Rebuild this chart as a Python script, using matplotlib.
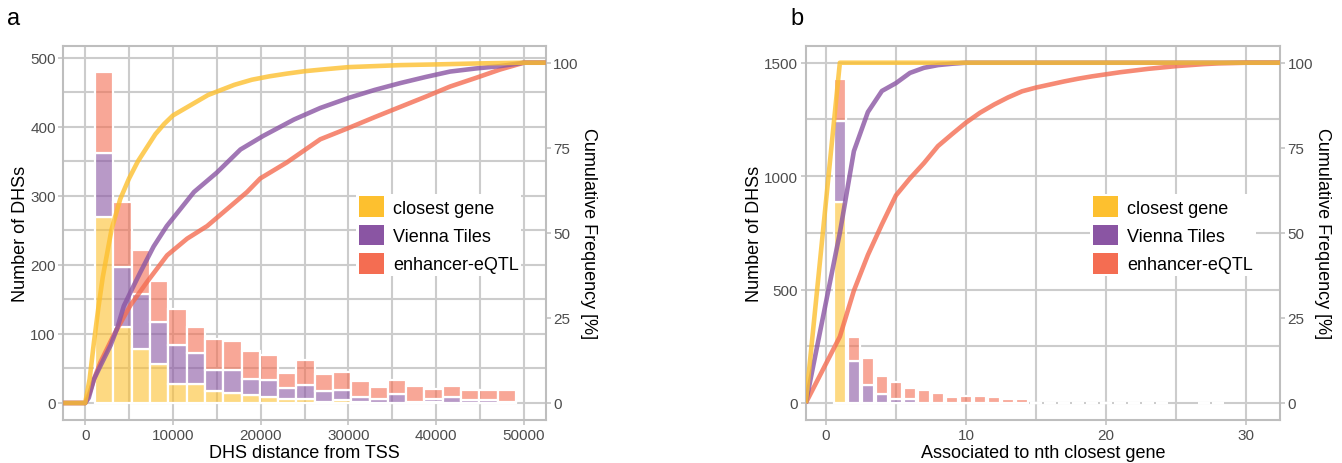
import numpy as np
import matplotlib
matplotlib.use('Agg')
import matplotlib.pyplot as plt
from matplotlib.patches import Patch
from matplotlib.colors import to_rgba
from matplotlib.ticker import MultipleLocator

plt.rcParams['font.family'] = ['Liberation Sans', 'DejaVu Sans']

GROUPS = ['closest gene', 'Vienna Tiles', 'enhancer-eQTL']
COLORS = ['#FDC02F', '#8A55A3', '#F46D52']
GRID = '#CCCCCC'
FRAME = '#BEBEBE'
TICKTXT = '#4D4D4D'

# panel a: DHS counts per distance bin (stacked) + cumulative frequency
dist_bin_start = 2175
dist_bin_width = 2086
dist_closest = [270, 110, 78, 57, 28, 28, 18, 15, 11, 9, 6, 6, 1, 5, 1, 0, 0, 0, 1, 0, 0, 0, 0]
dist_vienna = [92, 87, 80, 61, 56, 44, 30, 33, 24, 25, 15, 20, 17, 14, 8, 6, 13, 2, 5, 8, 4, 4, 1]
dist_eqtl = [118, 94, 64, 59, 52, 38, 44, 42, 40, 36, 22, 36, 24, 26, 23, 17, 21, 23, 14, 17, 15, 15, 18]
dist_xlim = (-2500, 52500)

cum_dist_closest_x = [0, 500, 1000, 1500, 2000, 3000, 4000, 5000, 6000, 7000, 8000, 9000, 10000,
                      11000, 12000, 13000, 14000, 15000, 17000, 19000, 21000, 23000, 25000, 27000,
                      30000, 33000, 36000, 40000, 45000, 50000]
cum_dist_closest_y = [0, 7, 18, 28, 37, 51, 60, 66, 71, 75, 79, 82, 84.5, 86, 87.5, 89, 90.5,
                      91.5, 93.5, 95, 96, 96.8, 97.5, 98, 98.7, 99, 99.3, 99.5, 99.8, 100]
cum_dist_vienna_x = [0, 400, 1000, 1750, 2900, 3650, 4400, 5150, 6300, 7800, 9300, 10850, 12400,
                     15000, 17700, 20300, 23800, 26800, 30200, 33000, 35900, 38800, 41600, 44500,
                     47300, 50000]
cum_dist_vienna_y = [0, 1.5, 7, 11, 17, 22, 28.5, 32.5, 38.5, 46, 52, 57, 62, 67.7, 74.5, 78.5,
                     83.3, 86.7, 89.8, 92, 94, 95.8, 97.4, 98.3, 99, 100]
cum_dist_eqtl_x = [0, 500, 1000, 1740, 3260, 5150, 7050, 9340, 11620, 13900, 16180, 18450, 19960,
                   22990, 26800, 30200, 33000, 35900, 38800, 41600, 44500, 47300, 50000]
cum_dist_eqtl_y = [0, 3, 7, 12, 20, 28.7, 35.6, 43.4, 48.3, 52, 57, 62, 66, 70.7, 77.5, 81, 84,
                   87, 90, 93, 95.5, 98, 100]

# panel b: DHS counts per gene rank (stacked) + cumulative frequency
rank = list(range(1, 25)) + [27, 28]
rank_closest = [884] + [0] * 25
rank_vienna = [358, 183, 80, 40, 16, 17, 2] + [0] * 19
rank_eqtl = [185, 110, 118, 80, 78, 48, 55, 44, 26, 29, 31, 25, 19, 16,
             0, 0, 2, 2, 0, 0, 0, 0, 0, 0, 0, 0]
rank_xlim = (-1.43, 32.4)

cum_rank_closest_x = [1]
cum_rank_closest_y = [100]
cum_rank_vienna_x = [1, 2, 3, 4, 5, 6, 7, 8, 9, 10]
cum_rank_vienna_y = [50, 74, 85.5, 91.7, 94, 97, 98.5, 99.3, 99.7, 100]
cum_rank_eqtl_x = list(range(1, 31))
cum_rank_eqtl_y = [19.5, 33, 43.5, 52.5, 61, 66, 70.5, 75.5, 79, 82.4, 85.3, 87.7, 89.8, 91.6,
                   92.7, 93.6, 94.5, 95.3, 96, 96.6, 97.2, 97.7, 98.2, 98.6, 99, 99.3, 99.6,
                   99.8, 99.9, 100]


def style_axis(ax):
    ax.set_axisbelow(True)
    ax.grid(True, which='both', color=GRID, linewidth=1.5)
    for s in ax.spines.values():
        s.set_color(FRAME)
        s.set_linewidth(1.5)
    ax.tick_params(which='major', length=3.5, width=1.1, color=FRAME, labelcolor=TICKTXT,
                   labelsize=11, pad=2)
    ax.tick_params(which='minor', length=0)


def draw_panel(ax, centers, width, counts, xlim, ymax, cums, xlabel, tag, tag_x,
               xmajor, xminor, ymajor, yminor, legend_x):
    style_axis(ax)
    bottom = np.zeros(len(centers))
    for vals, col in zip(counts, COLORS):
        ax.bar(centers, vals, width=width, bottom=bottom, color=to_rgba(col, 0.6),
               edgecolor='white', linewidth=1.6, zorder=2)
        bottom = bottom + np.array(vals)
    ax.set_xlim(*xlim)
    ax.set_ylim(-0.05 * ymax, 1.05 * ymax)
    ax.xaxis.set_major_locator(MultipleLocator(xmajor))
    ax.xaxis.set_minor_locator(MultipleLocator(xminor))
    ax.yaxis.set_major_locator(MultipleLocator(ymajor))
    ax.yaxis.set_minor_locator(MultipleLocator(yminor))
    ax.set_xlabel(xlabel, fontsize=13, labelpad=2)
    ax.set_ylabel('Number of DHSs', fontsize=13, labelpad=1)

    ax2 = ax.twinx()
    for (cx, cy), col in reversed(list(zip(cums, COLORS))):
        # ecdf padded out to both panel edges
        px = [xlim[0]] + list(cx) + [xlim[1]]
        py = [0] + list(cy) + [100]
        ax2.plot(px, py, color=col, alpha=0.8, linewidth=3.3, solid_capstyle='butt',
                 solid_joinstyle='round', zorder=3)
    ax2.set_ylim(-5, 105)
    ax2.set_yticks([0, 25, 50, 75, 100])
    for s in ax2.spines.values():
        s.set_visible(False)
    ax2.tick_params(length=3.5, width=1.1, color=FRAME, labelcolor=TICKTXT, labelsize=11, pad=2)
    ax2.set_ylabel('Cumulative Frequency [%]', fontsize=13, rotation=270, labelpad=13)

    handles = [Patch(facecolor=c, edgecolor='none') for c in COLORS]
    ax2.legend(handles, GROUPS, loc='upper left', bbox_to_anchor=(legend_x, 0.605),
               fontsize=13, frameon=True, facecolor='white', edgecolor='none',
               framealpha=1, fancybox=False, borderpad=0.15, handlelength=1.39,
               handleheight=1.39, handletextpad=0.5, labelspacing=0.42,
               borderaxespad=0)
    fig.text(tag_x, 1 - 19 / 464, tag, fontsize=17, ha='center', va='center')
    return ax2


fig = plt.figure(figsize=(13.42, 4.64), dpi=100)
ax_a = fig.add_axes([63.3 / 1342, 43 / 464, 482.4 / 1342, 374.3 / 464])
ax_b = fig.add_axes([805.8 / 1342, 43 / 464, 474.2 / 1342, 374.3 / 464])

dist_centers = dist_bin_start + dist_bin_width * np.arange(len(dist_closest))
draw_panel(ax_a, dist_centers, dist_bin_width, [dist_closest, dist_vienna, dist_eqtl],
           dist_xlim, 492.8,
           [(cum_dist_closest_x, cum_dist_closest_y), (cum_dist_vienna_x, cum_dist_vienna_y),
            (cum_dist_eqtl_x, cum_dist_eqtl_y)],
           'DHS distance from TSS', 'a', 13.5 / 1342, 10000, 5000, 100, 50, 0.607)
draw_panel(ax_b, rank, 0.85, [rank_closest, rank_vienna, rank_eqtl],
           rank_xlim, 1500,
           [(cum_rank_closest_x, cum_rank_closest_y), (cum_rank_vienna_x, cum_rank_vienna_y),
            (cum_rank_eqtl_x, cum_rank_eqtl_y)],
           'Associated to nth closest gene', 'b', 797 / 1342, 10, 5, 500, 250, 0.6)

fig.savefig('out.png', dpi=100)
